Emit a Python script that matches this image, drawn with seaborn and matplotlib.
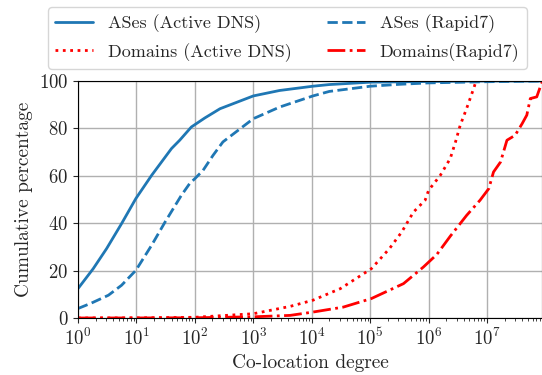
import numpy as np
import pandas as pd
import seaborn as sns
import matplotlib
matplotlib.use("Agg")
import matplotlib.pyplot as plt

# x values given as log10(co-location degree), y as cumulative percentage
ases_adns_logx = [0, 0.26, 0.49, 0.745, 0.99, 1.26, 1.60, 1.74, 1.94, 2.17, 2.43, 3.0, 3.45, 4.02, 4.3, 5.0, 6.0, 7.0, 7.94]
ases_adns_y = [12.4, 20.8, 29.3, 39.8, 50.4, 60.2, 71.5, 75.0, 80.6, 84.4, 88.3, 93.7, 96.0, 97.8, 98.5, 99.5, 99.8, 100, 100]

ases_r7_logx = [0, 0.23, 0.52, 0.745, 0.99, 1.26, 1.49, 1.77, 1.91, 2.0, 2.14, 2.31, 2.48, 3.0, 3.45, 4.02, 4.3, 5.0, 5.5, 6.0, 7.0, 7.94]
ases_r7_y = [4.0, 6.3, 9.6, 13.8, 20.1, 30.7, 40.5, 51.8, 56.7, 58.8, 62.3, 68.6, 74.3, 84.1, 89.0, 93.7, 95.6, 97.8, 98.6, 99.2, 99.7, 100]

dom_adns_logx = [0, 1.0, 2.0, 3.0, 3.63, 4.02, 4.49, 5.02, 5.33, 5.54, 5.74, 5.94, 6.0, 6.2, 6.37, 6.46, 6.54, 6.65, 6.78, 6.81]
dom_adns_y = [0, 0.05, 0.3, 1.8, 4.9, 7.5, 12.4, 20.8, 29.3, 36.3, 44.7, 49.7, 53.9, 60.2, 67.3, 74.3, 81.3, 88.4, 97.5, 100]

dom_r7_logx = [0, 1.0, 2.0, 3.0, 3.63, 4.02, 4.54, 5.02, 5.57, 5.91, 6.14, 6.37, 6.65, 6.88, 7.03, 7.11, 7.23, 7.34, 7.48, 7.60, 7.68, 7.74, 7.85, 7.91, 7.95]
dom_r7_y = [0, 0.02, 0.1, 0.5, 1.1, 2.5, 4.6, 8.2, 14.5, 21.5, 26.8, 34.5, 43.3, 49.7, 54.6, 61.6, 65.8, 75.0, 77.1, 82.0, 85.6, 92.6, 93.3, 97.5, 100]

sns.set_style("ticks")
plt.rcParams["font.family"] = "serif"
plt.rcParams["font.serif"] = ["cmr10", "DejaVu Serif"]
plt.rcParams["mathtext.fontset"] = "cm"
plt.rcParams["axes.formatter.use_mathtext"] = True

fig = plt.figure(figsize=(5.42, 3.75), dpi=100)
ax = fig.add_axes([78/542, 57/375, 464/542, 237/375])

series = [
    ("ASes (Active DNS)", ases_adns_logx, ases_adns_y, "#1f77b4", "-"),
    ("ASes (Rapid7)", ases_r7_logx, ases_r7_y, "#1f77b4", "--"),
    ("Domains (Active DNS)", dom_adns_logx, dom_adns_y, "red", ":"),
    ("Domains(Rapid7)", dom_r7_logx, dom_r7_y, "red", "-."),
]
for name, lx, y, c, ls in series:
    df = pd.DataFrame({"x": np.power(10.0, lx), "y": y})
    sns.lineplot(data=df, x="x", y="y", ax=ax, color=c, linestyle=ls, linewidth=2,
                 label=name, sort=False, estimator=None)

ax.set_xscale("log")
ax.set_xlim(1, 10 ** 7.94)
ax.set_ylim(0, 100)
ax.set_xticks([1, 10, 100, 1e3, 1e4, 1e5, 1e6, 1e7])
ax.set_yticks([0, 20, 40, 60, 80, 100])
ax.grid(True, which="major", color="#b0b0b0", linewidth=1)
ax.set_xlabel("Co-location degree", fontsize=14)
ax.set_ylabel("Cumulative percentage", fontsize=14)
for s in ax.spines.values():
    s.set_visible(True)
    s.set_color("black")
ax.tick_params(direction="out", labelsize=13.5)

h, l = ax.get_legend_handles_labels()
order = [0, 2, 1, 3]
ax.legend([h[i] for i in order], [l[i] for i in order], ncol=2, loc="upper left",
          bbox_to_anchor=(48/542, 1 - 7/375), bbox_transform=fig.transFigure,
          borderaxespad=0, fontsize=13, frameon=True, columnspacing=2.0,
          handlelength=2.1, labelspacing=0.55)

fig.savefig("out.png", dpi=100)
